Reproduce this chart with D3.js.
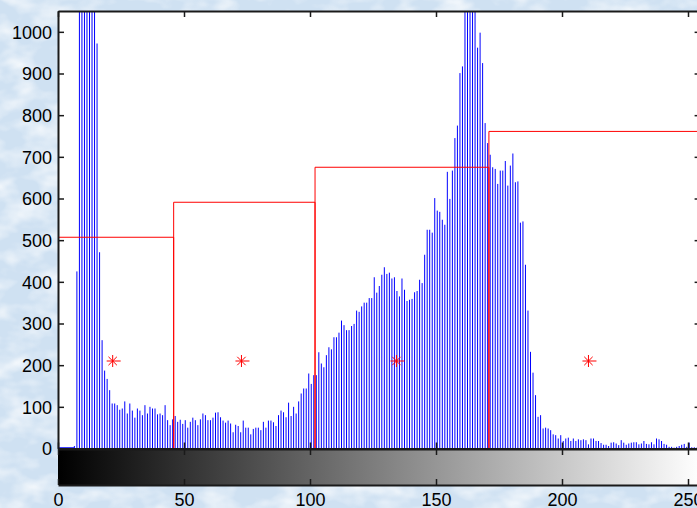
<!DOCTYPE html>
<html>
<head>
<meta charset="utf-8">
<script src="https://cdn.jsdelivr.net/npm/d3@7"></script>
<style>
  html, body { margin: 0; padding: 0; background: #d6e6f4; }
  svg { display: block; }
  text { font-family: "Liberation Sans", Arial, sans-serif; font-size: 18px; fill: #000; }
</style>
</head>
<body>
<svg id="chart" width="697" height="508"></svg>
<script>
// Pixel counts for each gray level 0..255 (stems are drawn at bin centres)
const counts = [
  0,0,0,0,0,0,6,425,1850,3400,4100,3600,2900,2200,1500,972,
  471,260,187,167,140,108,108,104,93,96,113,84,108,91,74,96,
  91,80,104,84,100,96,96,82,84,80,104,68,56,70,78,64,
  69,59,68,50,64,74,68,56,70,84,80,68,68,74,86,87,
  75,67,62,67,60,39,57,54,39,67,50,50,34,47,50,50,
  44,64,50,67,67,63,54,80,91,87,75,110,78,100,84,113,
  132,144,144,180,155,176,176,231,204,195,224,243,238,267,267,278,
  307,296,284,284,294,299,331,328,341,350,350,361,361,411,374,390,
  417,435,419,422,408,411,378,365,408,381,354,357,359,375,378,405,
  397,465,525,525,518,601,571,568,549,537,664,599,667,745,775,901,
  917,1180,1420,1560,1390,1120,962,998,925,781,733,705,675,671,635,667,
  667,690,631,679,708,639,641,542,545,441,331,232,182,128,76,80,
  48,50,48,44,34,32,24,32,18,24,26,18,24,18,22,20,
  22,20,10,24,24,18,18,13,9,9,6,14,15,12,8,20,
  14,9,12,14,15,15,10,12,18,11,10,15,10,24,22,18,
  11,9,4,4,2,4,6,9,11,4,14,3,3,2,1,0
];

// Class boundaries and the level drawn for each class
const classEdges = [0, 45.7, 101.8, 170.8, 255];
const classLevels = [507, 591, 675, 761];

// Class centres marked with asterisks
const centreX = [21.7, 72.8, 134.3, 210.5];
const centreY = [210, 210, 210, 210];

const xTicks = [0, 50, 100, 150, 200, 250];
const yTicks = [0, 100, 200, 300, 400, 500, 600, 700, 800, 900, 1000];

const svg = d3.select("#chart");
const W = 697, H = 508;

const x = d3.scaleLinear().domain([0, 255]).range([58, 700.6]);
const y = d3.scaleLinear().domain([0, 1050]).range([448.5, 11]);
const cbTop = 449, cbBottom = 485;

const defs = svg.append("defs");

// mottled light-blue backdrop
const tex = defs.append("filter").attr("id", "mottle")
  .attr("x", 0).attr("y", 0).attr("width", "100%").attr("height", "100%");
tex.append("feTurbulence").attr("type", "fractalNoise")
  .attr("baseFrequency", "0.03 0.05").attr("numOctaves", 3).attr("seed", 7);
tex.append("feColorMatrix").attr("type", "matrix")
  .attr("values", "0 0 0 0 1  0 0 0 0 1  0 0 0 0 1  0 0 0 2.2 -0.9");

svg.append("rect").attr("width", W).attr("height", H).attr("fill", "#cfe1f2");
svg.append("rect").attr("width", W).attr("height", H)
  .attr("filter", "url(#mottle)").attr("opacity", 0.75);

// plotting area
svg.append("rect")
  .attr("x", x(0)).attr("y", y(1050))
  .attr("width", x(255) - x(0)).attr("height", y(0) - y(1050))
  .attr("fill", "#fff");

defs.append("clipPath").attr("id", "plotClip")
  .append("rect")
  .attr("x", x(0)).attr("y", y(1050))
  .attr("width", x(255) - x(0)).attr("height", y(0) - y(1050));

// gray-level colour bar
const grad = defs.append("linearGradient").attr("id", "grayRamp")
  .attr("x1", "0%").attr("x2", "100%").attr("y1", "0%").attr("y2", "0%");
grad.append("stop").attr("offset", "0%").attr("stop-color", "#000");
grad.append("stop").attr("offset", "100%").attr("stop-color", "#fff");

svg.append("rect")
  .attr("x", x(0)).attr("y", cbTop)
  .attr("width", x(255) - x(0)).attr("height", cbBottom - cbTop)
  .attr("fill", "url(#grayRamp)");

const plot = svg.append("g").attr("clip-path", "url(#plotClip)");

// histogram stems
plot.append("g")
  .selectAll("line")
  .data(counts)
  .join("line")
  .attr("x1", (d, i) => x(i + 0.5))
  .attr("x2", (d, i) => x(i + 0.5))
  .attr("y1", y(0))
  .attr("y2", d => y(d))
  .attr("stroke", "#0000ff")
  .attr("stroke-width", 1);

// stem baseline over the empty dark levels
svg.append("line")
  .attr("x1", x(0)).attr("x2", x(6.5))
  .attr("y1", y(0) - 0.5).attr("y2", y(0) - 0.5)
  .attr("stroke", "#0000ff").attr("stroke-width", 1.5);

// axes frame
const axisColor = "#1a1a1a";
function styleAxis(g) {
  g.select(".domain").attr("stroke", axisColor).attr("stroke-width", 2);
  g.selectAll(".tick line").attr("stroke", axisColor).attr("stroke-width", 1.5);
  g.selectAll("text").attr("font-size", null).attr("font-family", null).attr("fill", "#000");
}

svg.append("g")
  .attr("transform", `translate(0,${y(1050)})`)
  .call(d3.axisTop(x).tickValues(xTicks).tickSizeInner(-6).tickSizeOuter(0).tickFormat(""))
  .call(styleAxis);

svg.append("g")
  .attr("transform", `translate(0,${y(0)})`)
  .call(d3.axisBottom(x).tickValues(xTicks).tickSizeInner(-6).tickSizeOuter(0).tickFormat(""))
  .call(styleAxis);

svg.append("g")
  .attr("transform", `translate(${x(0)},0)`)
  .call(d3.axisLeft(y).tickValues(yTicks).tickSizeInner(-6).tickSizeOuter(0)
    .tickPadding(6).tickFormat(d3.format("d")))
  .call(styleAxis)
  .call(g => g.selectAll("text").attr("dy", "0.36em"));

svg.append("g")
  .attr("transform", `translate(${x(255)},0)`)
  .call(d3.axisRight(y).tickValues(yTicks).tickSizeInner(-6).tickSizeOuter(0).tickFormat(""))
  .call(styleAxis);

// colour bar ticks and labels
svg.append("g")
  .attr("transform", `translate(0,${cbTop})`)
  .call(d3.axisBottom(x).tickValues(xTicks).tickSizeInner(6).tickSizeOuter(0).tickFormat(""))
  .call(styleAxis);

svg.append("g")
  .attr("transform", `translate(0,${cbBottom})`)
  .call(d3.axisBottom(x).tickValues(xTicks).tickSizeInner(-6).tickSizeOuter(0)
    .tickPadding(8).tickFormat(d3.format("d")))
  .call(styleAxis);

// class levels
const stairs = plot.append("g");
classLevels.forEach((lv, i) => {
  const p = d3.path();
  p.moveTo(x(classEdges[i]) + 0.5, y(0));
  p.lineTo(x(classEdges[i]) + 0.5, y(lv));
  p.lineTo(x(classEdges[i + 1]) + 0.5, y(lv));
  p.lineTo(x(classEdges[i + 1]) + 0.5, y(0));
  stairs.append("path")
    .attr("d", p.toString())
    .attr("fill", "none")
    .attr("stroke", "#ff0000")
    .attr("stroke-width", 1);
});

// class centres
const star = d3.path();
const r = 6, dg = 4.2;
star.moveTo(-r, 0); star.lineTo(r + 2, 0);
star.moveTo(0, -r); star.lineTo(0, r);
star.moveTo(-dg, -dg); star.lineTo(dg, dg);
star.moveTo(-dg, dg); star.lineTo(dg, -dg);

plot.append("g")
  .selectAll("path")
  .data(centreX.map((cx, i) => [cx, centreY[i]]))
  .join("path")
  .attr("transform", d => `translate(${x(d[0])},${y(d[1])})`)
  .attr("d", star.toString())
  .attr("fill", "none")
  .attr("stroke", "#ff0000")
  .attr("stroke-width", 1);
</script>
</body>
</html>
